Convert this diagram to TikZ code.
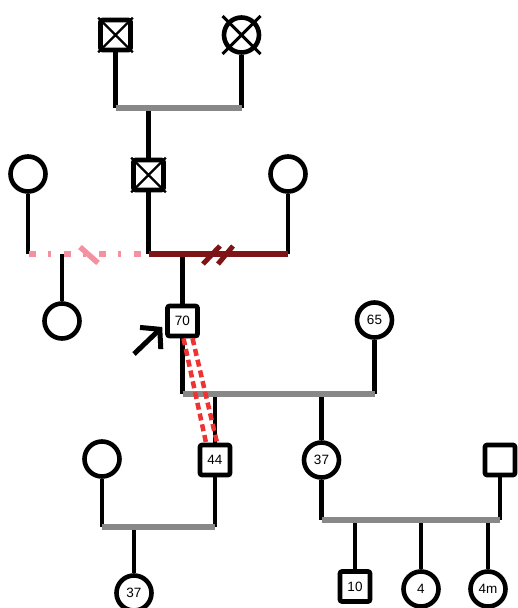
\documentclass[tikz,border=0pt]{standalone}
\usepackage{fontspec}
\setmainfont{Liberation Sans}
\usetikzlibrary{arrows.meta,calc}
\definecolor{cplgray}{HTML}{888888}
\definecolor{darkred}{HTML}{7E1416}
\definecolor{pinkline}{HTML}{F4909F}
\definecolor{dotred}{HTML}{EE3333}
\tikzset{
  male/.style={draw, line width=4.6, rectangle, rounded corners=2, minimum size=30, inner sep=0, fill=white, font=\fontsize{13.5}{15}\selectfont},
  female/.style={draw, line width=4.6, circle, minimum size=35, inner sep=0, fill=white, font=\fontsize{13.5}{15}\selectfont},
  kin/.style={line width=4.6, black},
  couple/.style={line width=5.5, cplgray},
  xmark/.style={line width=2.2, black},
}
\begin{document}
\begin{tikzpicture}[x=1pt,y=-1pt]
\useasboundingbox (0,0) rectangle (518,608);
% nodes
\node[male] (gf) at (115.5,35) {};
\node[female] (gm) at (241.5,35) {};
\node[male] (f) at (148.5,175) {};
\node[female] (w1) at (28,174) {};
\node[female] (w2) at (288,174) {};
\node[female] (hs) at (62,321) {};
\node[male] (p70) at (182.5,321) {70};
\node[female] (m65) at (374.5,320) {65};
\node[male] (s44) at (215,460) {44};
\node[female] (d37) at (321.5,460) {37};
\node[male] (h) at (500,460) {};
\node[female] (w3) at (102,459) {};
\node[female] (g37) at (134,593) {37};
\node[male] (s10) at (355,586.5) {10};
\node[female] (g4) at (421,589) {4};
\node[female] (g4m) at (488,589) {4m};
% crosses
\draw[xmark] (gf.north west) -- (gf.south east) (gf.north east) -- (gf.south west);
\draw[xmark] (f.north west) -- (f.south east) (f.north east) -- (f.south west);
\draw[line width=3] ($(gm)+(-19,-19)$) -- ($(gm)+(19,19)$) ($(gm)+(19,-19)$) -- ($(gm)+(-19,19)$);
% couple coordinates
\coordinate (c1l) at (115.5,108);
\coordinate (c1r) at (241.5,108);
\coordinate (c1m) at (148.5,108);
\coordinate (c2l) at (28,254);
\coordinate (c2m) at (148.5,254);
\coordinate (c2r) at (288,254);
\coordinate (c2a) at (62,254);
\coordinate (c2b) at (182.5,254);
\coordinate (c3l) at (182.5,394);
\coordinate (c3r) at (374.5,394);
\coordinate (c3a) at (215,394);
\coordinate (c3b) at (321.5,394);
\coordinate (c4l) at (321.5,520);
\coordinate (c4r) at (500,520);
\coordinate (c4a) at (355,520);
\coordinate (c4b) at (421,520);
\coordinate (c4c) at (488,520);
\coordinate (c5l) at (102,527);
\coordinate (c5r) at (215,527);
\coordinate (c5a) at (134,527);
% vertical lines
\draw[kin] (gf) -- (c1l);
\draw[kin] (gm) -- (c1r);
\draw[kin] (c1m) -- (f);
\draw[kin] (w1) -- (c2l);
\draw[kin] (f) -- (c2m);
\draw[kin] (w2) -- (c2r);
\draw[kin] (c2a) -- (hs);
\draw[kin] (c2b) -- (p70);
\draw[kin] (p70) -- (c3l);
\draw[kin] (m65) -- (c3r);
\draw[kin] (c3a) -- (s44);
\draw[kin] (c3b) -- (d37);
\draw[kin] (d37) -- (c4l);
\draw[kin] (h) -- (c4r);
\draw[kin] (c4a) -- (s10);
\draw[kin] (c4b) -- (g4);
\draw[kin] (c4c) -- (g4m);
\draw[kin] (w3) -- (c5l);
\draw[kin] (s44) -- (c5r);
\draw[kin] (c5a) -- (g37);
% couple lines
\draw[couple] (c1l) -- (c1r);
\draw[couple] (c3l) -- (c3r);
\draw[couple] (c4l) -- (c4r);
\draw[couple] (c5l) -- (c5r);
\draw[line width=5.5, pinkline, dash pattern=on 7 off 12 on 3 off 13] (c2l) ++(1,0) -- (c2m);
\draw[line width=5.5, pinkline] (80,247) -- (98,263);
\draw[line width=5.5, darkred] (c2m) -- (c2r);
\draw[line width=5, darkred] (203,264) -- (220,246) (218,264) -- (233,246);
% double dotted link
\draw[line width=4.5, dotred, dash pattern=on 7 off 4] ([xshift=1]p70.south) -- ([xshift=-9]s44.north);
\draw[line width=4.5, dotred, dash pattern=on 7 off 4] ([xshift=10]p70.south) -- ([xshift=2]s44.north);
% proband arrow
\coordinate (arrtail) at (134,354);
\draw[line width=5, -{Straight Barb[length=13, width=30]}] (arrtail) -- ([shift={(-3,6)}]p70.west);
\end{tikzpicture}
\end{document}
